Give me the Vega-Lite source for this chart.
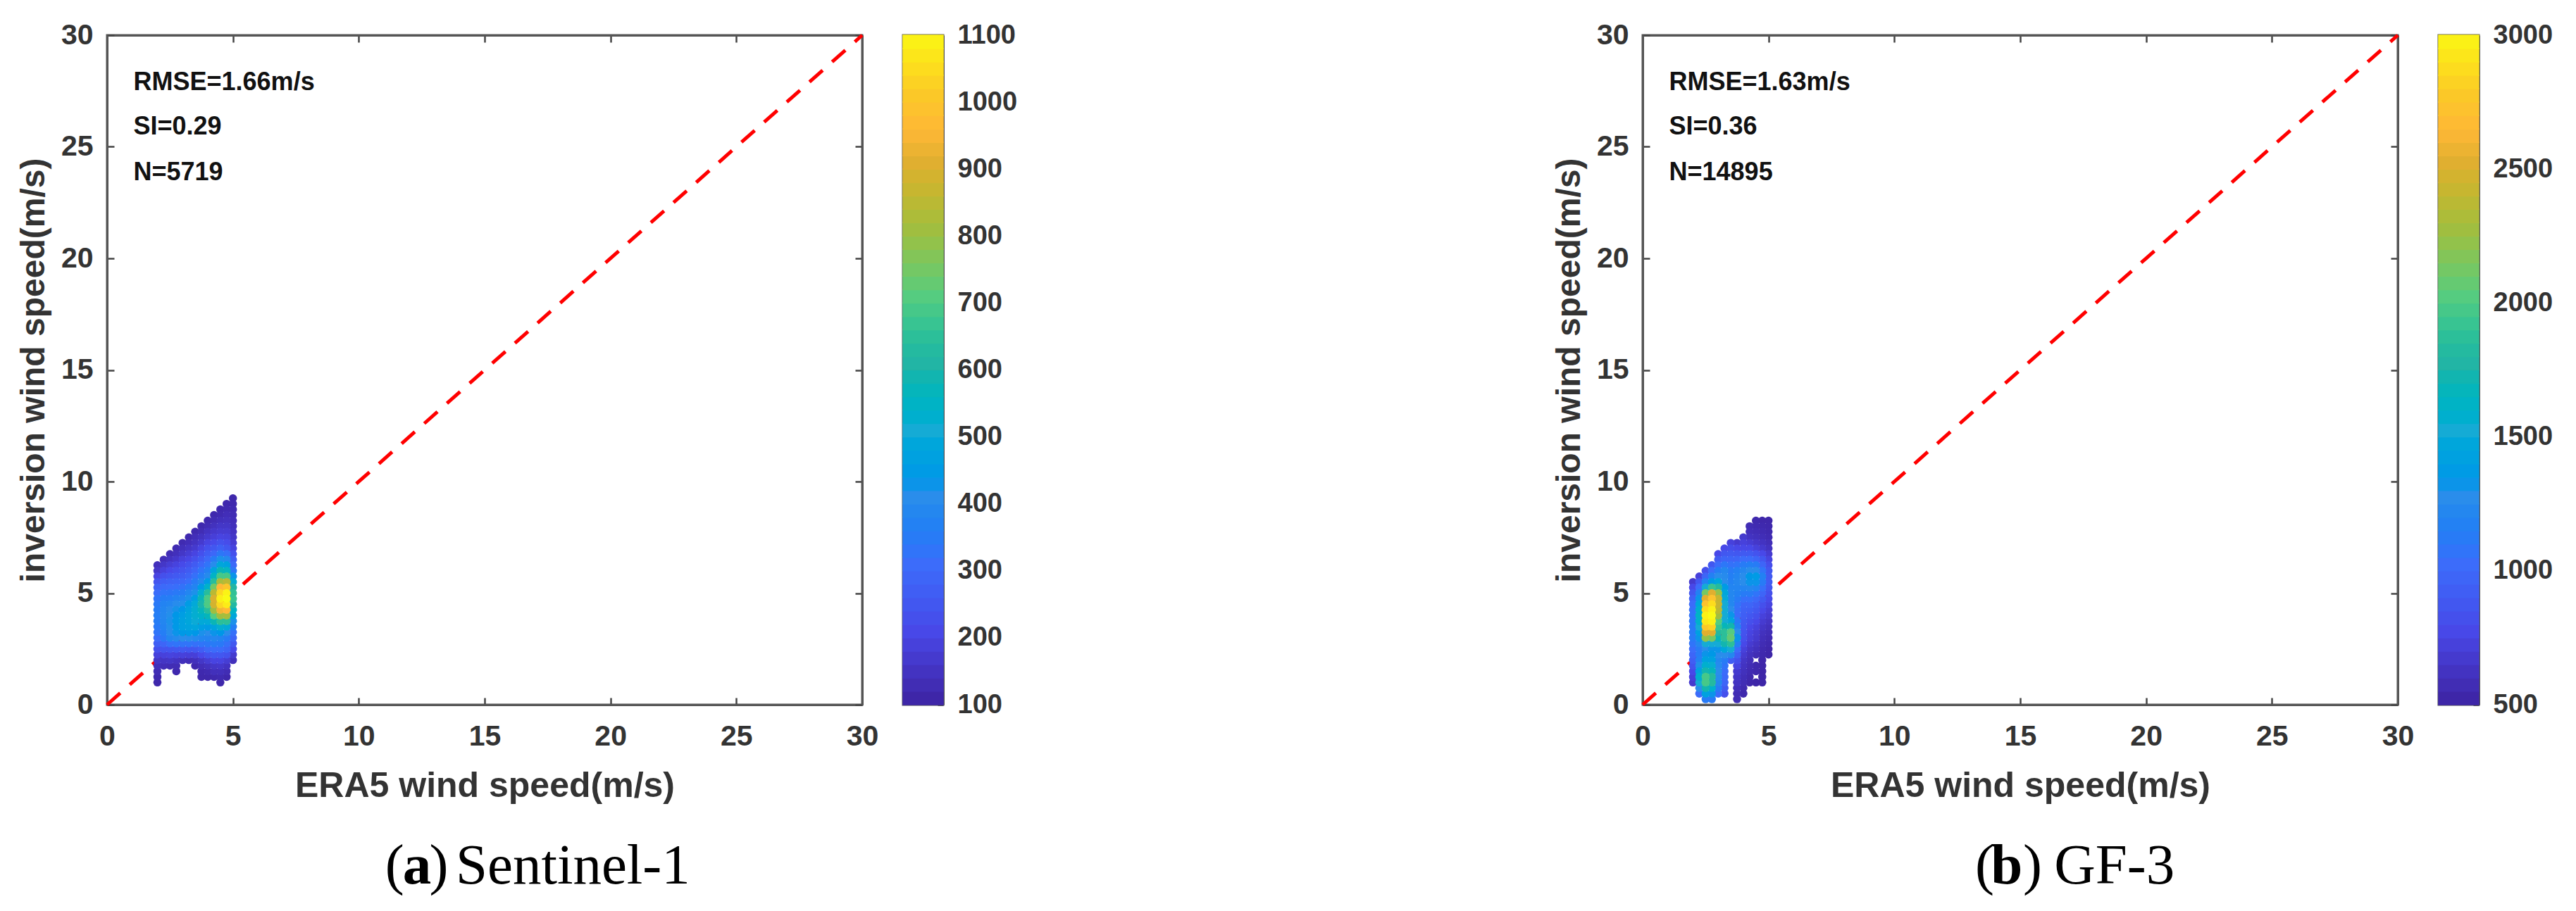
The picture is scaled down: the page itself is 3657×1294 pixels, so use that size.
{
"$schema":"https://vega.github.io/schema/vega-lite/v6.json",
"background":"white",
"padding":{"left":22,"top":27,"right":0,"bottom":0},
"config":{"view":{"stroke":"#555","strokeWidth":3},
"axis":{"grid":false,"labelFont":"Liberation Sans","labelFontWeight":"bold","labelFontSize":41,"labelColor":"#333","titleFont":"Liberation Sans","titleFontWeight":"bold","titleFontSize":48,"titleColor":"#333","tickColor":"#444","tickWidth":2.5,"tickSize":-10,"domainColor":"#555","domainWidth":3,"labelFlush":false,"labelOverlap":false,"zindex":1}},
"datasets":{
"line":[{"x":0,"y":0},{"x":30,"y":30}],
"statsA":[{"x":1.05,"y":27.55,"t":"RMSE=1.66m/s"},{"x":1.05,"y":25.55,"t":"SI=0.29"},{"x":1.05,"y":23.5,"t":"N=5719"}],
"statsB":[{"x":1.05,"y":27.55,"t":"RMSE=1.63m/s"},{"x":1.05,"y":25.55,"t":"SI=0.36"},{"x":1.05,"y":23.5,"t":"N=14895"}],
"capA":[{"x":11.05,"y":-8,"t":"("},{"x":12.8,"y":-8,"t":")"},{"x":13.85,"y":-8,"t":"Sentinel-1"}],
"capABold":[{"x":11.75,"y":-8,"t":"a"}],
"capB":[{"x":13.21,"y":-8,"t":"("},{"x":15.11,"y":-8,"t":")"},{"x":16.35,"y":-8,"t":"GF-3"}],
"capBBold":[{"x":13.83,"y":-8,"t":"b"}],
"barA":[{"lo":100,"hi":120},{"lo":120,"hi":140},{"lo":140,"hi":160},{"lo":160,"hi":180},{"lo":180,"hi":200},{"lo":200,"hi":220},{"lo":220,"hi":240},{"lo":240,"hi":260},{"lo":260,"hi":280},{"lo":280,"hi":300},{"lo":300,"hi":320},{"lo":320,"hi":340},{"lo":340,"hi":360},{"lo":360,"hi":380},{"lo":380,"hi":400},{"lo":400,"hi":420},{"lo":420,"hi":440},{"lo":440,"hi":460},{"lo":460,"hi":480},{"lo":480,"hi":500},{"lo":500,"hi":520},{"lo":520,"hi":540},{"lo":540,"hi":560},{"lo":560,"hi":580},{"lo":580,"hi":600},{"lo":600,"hi":620},{"lo":620,"hi":640},{"lo":640,"hi":660},{"lo":660,"hi":680},{"lo":680,"hi":700},{"lo":700,"hi":720},{"lo":720,"hi":740},{"lo":740,"hi":760},{"lo":760,"hi":780},{"lo":780,"hi":800},{"lo":800,"hi":820},{"lo":820,"hi":840},{"lo":840,"hi":860},{"lo":860,"hi":880},{"lo":880,"hi":900},{"lo":900,"hi":920},{"lo":920,"hi":940},{"lo":940,"hi":960},{"lo":960,"hi":980},{"lo":980,"hi":1000},{"lo":1000,"hi":1020},{"lo":1020,"hi":1040},{"lo":1040,"hi":1060},{"lo":1060,"hi":1080},{"lo":1080,"hi":1100}],
"barB":[{"lo":500,"hi":550},{"lo":550,"hi":600},{"lo":600,"hi":650},{"lo":650,"hi":700},{"lo":700,"hi":750},{"lo":750,"hi":800},{"lo":800,"hi":850},{"lo":850,"hi":900},{"lo":900,"hi":950},{"lo":950,"hi":1000},{"lo":1000,"hi":1050},{"lo":1050,"hi":1100},{"lo":1100,"hi":1150},{"lo":1150,"hi":1200},{"lo":1200,"hi":1250},{"lo":1250,"hi":1300},{"lo":1300,"hi":1350},{"lo":1350,"hi":1400},{"lo":1400,"hi":1450},{"lo":1450,"hi":1500},{"lo":1500,"hi":1550},{"lo":1550,"hi":1600},{"lo":1600,"hi":1650},{"lo":1650,"hi":1700},{"lo":1700,"hi":1750},{"lo":1750,"hi":1800},{"lo":1800,"hi":1850},{"lo":1850,"hi":1900},{"lo":1900,"hi":1950},{"lo":1950,"hi":2000},{"lo":2000,"hi":2050},{"lo":2050,"hi":2100},{"lo":2100,"hi":2150},{"lo":2150,"hi":2200},{"lo":2200,"hi":2250},{"lo":2250,"hi":2300},{"lo":2300,"hi":2350},{"lo":2350,"hi":2400},{"lo":2400,"hi":2450},{"lo":2450,"hi":2500},{"lo":2500,"hi":2550},{"lo":2550,"hi":2600},{"lo":2600,"hi":2650},{"lo":2650,"hi":2700},{"lo":2700,"hi":2750},{"lo":2750,"hi":2800},{"lo":2800,"hi":2850},{"lo":2850,"hi":2900},{"lo":2900,"hi":2950},{"lo":2950,"hi":3000}],
"s1":[
{"x":2,"y":6.25,"d":130},{"x":2,"y":6,"d":150},{"x":2,"y":5.75,"d":190},{"x":2,"y":5.5,"d":230},{"x":2,"y":5.25,"d":270},{"x":2,"y":5,"d":300},{"x":2,"y":4.75,"d":320},{"x":2,"y":4.5,"d":335},{"x":2,"y":4.25,"d":345},{"x":2,"y":4,"d":350},{"x":2,"y":3.75,"d":345},{"x":2,"y":3.5,"d":335},{"x":2,"y":3.25,"d":320},{"x":2,"y":3,"d":300},{"x":2,"y":2.75,"d":260},{"x":2,"y":2.5,"d":220},{"x":2,"y":2.25,"d":180},{"x":2,"y":2,"d":150},{"x":2,"y":1.75,"d":130},{"x":2,"y":1.5,"d":120},{"x":2,"y":1.25,"d":110},{"x":2,"y":1,"d":105},
{"x":2.25,"y":6.5,"d":125},{"x":2.25,"y":6.25,"d":150},{"x":2.25,"y":6,"d":180},{"x":2.25,"y":5.75,"d":220},{"x":2.25,"y":5.5,"d":260},{"x":2.25,"y":5.25,"d":295},{"x":2.25,"y":5,"d":320},{"x":2.25,"y":4.75,"d":345},{"x":2.25,"y":4.5,"d":365},{"x":2.25,"y":4.25,"d":375},{"x":2.25,"y":4,"d":380},{"x":2.25,"y":3.75,"d":375},{"x":2.25,"y":3.5,"d":365},{"x":2.25,"y":3.25,"d":350},{"x":2.25,"y":3,"d":330},{"x":2.25,"y":2.75,"d":280},{"x":2.25,"y":2.5,"d":230},{"x":2.25,"y":2.25,"d":180},{"x":2.25,"y":2,"d":145},{"x":2.25,"y":1.75,"d":125},
{"x":2.5,"y":6.75,"d":120},{"x":2.5,"y":6.5,"d":140},{"x":2.5,"y":6.25,"d":170},{"x":2.5,"y":6,"d":200},{"x":2.5,"y":5.75,"d":235},{"x":2.5,"y":5.5,"d":270},{"x":2.5,"y":5.25,"d":300},{"x":2.5,"y":5,"d":325},{"x":2.5,"y":4.75,"d":350},{"x":2.5,"y":4.5,"d":375},{"x":2.5,"y":4.25,"d":395},{"x":2.5,"y":4,"d":405},{"x":2.5,"y":3.75,"d":410},{"x":2.5,"y":3.5,"d":405},{"x":2.5,"y":3.25,"d":395},{"x":2.5,"y":3,"d":375},{"x":2.5,"y":2.75,"d":310},{"x":2.5,"y":2.5,"d":235},{"x":2.5,"y":2.25,"d":185},{"x":2.5,"y":2,"d":150},{"x":2.5,"y":1.75,"d":120},
{"x":2.75,"y":7,"d":115},{"x":2.75,"y":6.75,"d":130},{"x":2.75,"y":6.5,"d":155},{"x":2.75,"y":6.25,"d":185},{"x":2.75,"y":6,"d":215},{"x":2.75,"y":5.75,"d":245},{"x":2.75,"y":5.5,"d":275},{"x":2.75,"y":5.25,"d":305},{"x":2.75,"y":5,"d":335},{"x":2.75,"y":4.75,"d":365},{"x":2.75,"y":4.5,"d":395},{"x":2.75,"y":4.25,"d":415},{"x":2.75,"y":4,"d":430},{"x":2.75,"y":3.75,"d":435},{"x":2.75,"y":3.5,"d":435},{"x":2.75,"y":3.25,"d":420},{"x":2.75,"y":3,"d":390},{"x":2.75,"y":2.75,"d":320},{"x":2.75,"y":2.5,"d":240},{"x":2.75,"y":2.25,"d":180},{"x":2.75,"y":2,"d":140},{"x":2.75,"y":1.75,"d":120},{"x":2.75,"y":1.5,"d":110},
{"x":3,"y":7.25,"d":115},{"x":3,"y":7,"d":130},{"x":3,"y":6.75,"d":150},{"x":3,"y":6.5,"d":180},{"x":3,"y":6.25,"d":205},{"x":3,"y":6,"d":230},{"x":3,"y":5.75,"d":255},{"x":3,"y":5.5,"d":285},{"x":3,"y":5.25,"d":315},{"x":3,"y":5,"d":345},{"x":3,"y":4.75,"d":375},{"x":3,"y":4.5,"d":405},{"x":3,"y":4.25,"d":430},{"x":3,"y":4,"d":450},{"x":3,"y":3.75,"d":460},{"x":3,"y":3.5,"d":460},{"x":3,"y":3.25,"d":435},{"x":3,"y":3,"d":400},{"x":3,"y":2.75,"d":320},{"x":3,"y":2.5,"d":245},{"x":3,"y":2.25,"d":180},{"x":3,"y":2,"d":130},
{"x":3.25,"y":7.5,"d":110},{"x":3.25,"y":7.25,"d":125},{"x":3.25,"y":7,"d":145},{"x":3.25,"y":6.75,"d":170},{"x":3.25,"y":6.5,"d":195},{"x":3.25,"y":6.25,"d":225},{"x":3.25,"y":6,"d":250},{"x":3.25,"y":5.75,"d":275},{"x":3.25,"y":5.5,"d":305},{"x":3.25,"y":5.25,"d":340},{"x":3.25,"y":5,"d":375},{"x":3.25,"y":4.75,"d":410},{"x":3.25,"y":4.5,"d":445},{"x":3.25,"y":4.25,"d":470},{"x":3.25,"y":4,"d":480},{"x":3.25,"y":3.75,"d":480},{"x":3.25,"y":3.5,"d":470},{"x":3.25,"y":3.25,"d":440},{"x":3.25,"y":3,"d":395},{"x":3.25,"y":2.75,"d":320},{"x":3.25,"y":2.5,"d":240},{"x":3.25,"y":2.25,"d":175},{"x":3.25,"y":2,"d":125},
{"x":3.5,"y":7.75,"d":110},{"x":3.5,"y":7.5,"d":125},{"x":3.5,"y":7.25,"d":140},{"x":3.5,"y":7,"d":160},{"x":3.5,"y":6.75,"d":190},{"x":3.5,"y":6.5,"d":220},{"x":3.5,"y":6.25,"d":250},{"x":3.5,"y":6,"d":280},{"x":3.5,"y":5.75,"d":310},{"x":3.5,"y":5.5,"d":340},{"x":3.5,"y":5.25,"d":370},{"x":3.5,"y":5,"d":410},{"x":3.5,"y":4.75,"d":450},{"x":3.5,"y":4.5,"d":490},{"x":3.5,"y":4.25,"d":510},{"x":3.5,"y":4,"d":510},{"x":3.5,"y":3.75,"d":495},{"x":3.5,"y":3.5,"d":475},{"x":3.5,"y":3.25,"d":430},{"x":3.5,"y":3,"d":385},{"x":3.5,"y":2.75,"d":310},{"x":3.5,"y":2.5,"d":240},{"x":3.5,"y":2.25,"d":175},{"x":3.5,"y":2,"d":130},{"x":3.5,"y":1.75,"d":110},
{"x":3.75,"y":8,"d":110},{"x":3.75,"y":7.75,"d":120},{"x":3.75,"y":7.5,"d":140},{"x":3.75,"y":7.25,"d":160},{"x":3.75,"y":7,"d":190},{"x":3.75,"y":6.75,"d":220},{"x":3.75,"y":6.5,"d":250},{"x":3.75,"y":6.25,"d":285},{"x":3.75,"y":6,"d":320},{"x":3.75,"y":5.75,"d":350},{"x":3.75,"y":5.5,"d":385},{"x":3.75,"y":5.25,"d":440},{"x":3.75,"y":5,"d":510},{"x":3.75,"y":4.75,"d":570},{"x":3.75,"y":4.5,"d":590},{"x":3.75,"y":4.25,"d":560},{"x":3.75,"y":4,"d":530},{"x":3.75,"y":3.75,"d":490},{"x":3.75,"y":3.5,"d":450},{"x":3.75,"y":3.25,"d":410},{"x":3.75,"y":3,"d":375},{"x":3.75,"y":2.75,"d":320},{"x":3.75,"y":2.5,"d":260},{"x":3.75,"y":2.25,"d":200},{"x":3.75,"y":2,"d":150},{"x":3.75,"y":1.75,"d":125},{"x":3.75,"y":1.5,"d":110},{"x":3.75,"y":1.25,"d":105},
{"x":4,"y":8.25,"d":110},{"x":4,"y":8,"d":120},{"x":4,"y":7.75,"d":140},{"x":4,"y":7.5,"d":160},{"x":4,"y":7.25,"d":190},{"x":4,"y":7,"d":220},{"x":4,"y":6.75,"d":255},{"x":4,"y":6.5,"d":290},{"x":4,"y":6.25,"d":320},{"x":4,"y":6,"d":355},{"x":4,"y":5.75,"d":390},{"x":4,"y":5.5,"d":440},{"x":4,"y":5.25,"d":530},{"x":4,"y":5,"d":630},{"x":4,"y":4.75,"d":690},{"x":4,"y":4.5,"d":690},{"x":4,"y":4.25,"d":630},{"x":4,"y":4,"d":560},{"x":4,"y":3.75,"d":490},{"x":4,"y":3.5,"d":440},{"x":4,"y":3.25,"d":400},{"x":4,"y":3,"d":370},{"x":4,"y":2.75,"d":330},{"x":4,"y":2.5,"d":290},{"x":4,"y":2.25,"d":225},{"x":4,"y":2,"d":170},{"x":4,"y":1.75,"d":135},{"x":4,"y":1.5,"d":115},{"x":4,"y":1.25,"d":105},
{"x":4.25,"y":8.5,"d":110},{"x":4.25,"y":8.25,"d":120},{"x":4.25,"y":8,"d":135},{"x":4.25,"y":7.75,"d":155},{"x":4.25,"y":7.5,"d":175},{"x":4.25,"y":7.25,"d":205},{"x":4.25,"y":7,"d":240},{"x":4.25,"y":6.75,"d":285},{"x":4.25,"y":6.5,"d":340},{"x":4.25,"y":6.25,"d":395},{"x":4.25,"y":6,"d":470},{"x":4.25,"y":5.75,"d":540},{"x":4.25,"y":5.5,"d":630},{"x":4.25,"y":5.25,"d":740},{"x":4.25,"y":5,"d":840},{"x":4.25,"y":4.75,"d":890},{"x":4.25,"y":4.5,"d":880},{"x":4.25,"y":4.25,"d":800},{"x":4.25,"y":4,"d":700},{"x":4.25,"y":3.75,"d":570},{"x":4.25,"y":3.5,"d":470},{"x":4.25,"y":3.25,"d":420},{"x":4.25,"y":3,"d":380},{"x":4.25,"y":2.75,"d":340},{"x":4.25,"y":2.5,"d":300},{"x":4.25,"y":2.25,"d":240},{"x":4.25,"y":2,"d":190},{"x":4.25,"y":1.75,"d":150},{"x":4.25,"y":1.5,"d":130},{"x":4.25,"y":1.25,"d":110},
{"x":4.5,"y":8.75,"d":110},{"x":4.5,"y":8.5,"d":115},{"x":4.5,"y":8.25,"d":130},{"x":4.5,"y":8,"d":150},{"x":4.5,"y":7.75,"d":165},{"x":4.5,"y":7.5,"d":190},{"x":4.5,"y":7.25,"d":225},{"x":4.5,"y":7,"d":265},{"x":4.5,"y":6.75,"d":330},{"x":4.5,"y":6.5,"d":410},{"x":4.5,"y":6.25,"d":480},{"x":4.5,"y":6,"d":570},{"x":4.5,"y":5.75,"d":680},{"x":4.5,"y":5.5,"d":810},{"x":4.5,"y":5.25,"d":950},{"x":4.5,"y":5,"d":1030},{"x":4.5,"y":4.75,"d":1075},{"x":4.5,"y":4.5,"d":1030},{"x":4.5,"y":4.25,"d":930},{"x":4.5,"y":4,"d":800},{"x":4.5,"y":3.75,"d":640},{"x":4.5,"y":3.5,"d":510},{"x":4.5,"y":3.25,"d":430},{"x":4.5,"y":3,"d":370},{"x":4.5,"y":2.75,"d":335},{"x":4.5,"y":2.5,"d":300},{"x":4.5,"y":2.25,"d":240},{"x":4.5,"y":2,"d":190},{"x":4.5,"y":1.75,"d":155},{"x":4.5,"y":1.5,"d":130},{"x":4.5,"y":1.25,"d":115},{"x":4.5,"y":1,"d":105},
{"x":4.75,"y":9,"d":110},{"x":4.75,"y":8.75,"d":115},{"x":4.75,"y":8.5,"d":125},{"x":4.75,"y":8.25,"d":135},{"x":4.75,"y":8,"d":150},{"x":4.75,"y":7.75,"d":165},{"x":4.75,"y":7.5,"d":185},{"x":4.75,"y":7.25,"d":210},{"x":4.75,"y":7,"d":240},{"x":4.75,"y":6.75,"d":310},{"x":4.75,"y":6.5,"d":385},{"x":4.75,"y":6.25,"d":460},{"x":4.75,"y":6,"d":550},{"x":4.75,"y":5.75,"d":680},{"x":4.75,"y":5.5,"d":840},{"x":4.75,"y":5.25,"d":990},{"x":4.75,"y":5,"d":1085},{"x":4.75,"y":4.75,"d":1100},{"x":4.75,"y":4.5,"d":1070},{"x":4.75,"y":4.25,"d":950},{"x":4.75,"y":4,"d":810},{"x":4.75,"y":3.75,"d":640},{"x":4.75,"y":3.5,"d":490},{"x":4.75,"y":3.25,"d":400},{"x":4.75,"y":3,"d":340},{"x":4.75,"y":2.75,"d":310},{"x":4.75,"y":2.5,"d":280},{"x":4.75,"y":2.25,"d":225},{"x":4.75,"y":2,"d":170},{"x":4.75,"y":1.75,"d":140},{"x":4.75,"y":1.5,"d":120},{"x":4.75,"y":1.25,"d":105},
{"x":5,"y":9.25,"d":105},{"x":5,"y":9,"d":110},{"x":5,"y":8.75,"d":115},{"x":5,"y":8.5,"d":120},{"x":5,"y":8.25,"d":125},{"x":5,"y":8,"d":130},{"x":5,"y":7.75,"d":140},{"x":5,"y":7.5,"d":150},{"x":5,"y":7.25,"d":165},{"x":5,"y":7,"d":185},{"x":5,"y":6.75,"d":220},{"x":5,"y":6.5,"d":255},{"x":5,"y":6.25,"d":290},{"x":5,"y":6,"d":330},{"x":5,"y":5.75,"d":420},{"x":5,"y":5.5,"d":510},{"x":5,"y":5.25,"d":600},{"x":5,"y":5,"d":650},{"x":5,"y":4.75,"d":660},{"x":5,"y":4.5,"d":610},{"x":5,"y":4.25,"d":540},{"x":5,"y":4,"d":480},{"x":5,"y":3.75,"d":410},{"x":5,"y":3.5,"d":350},{"x":5,"y":3.25,"d":310},{"x":5,"y":3,"d":280},{"x":5,"y":2.75,"d":240},{"x":5,"y":2.5,"d":200},{"x":5,"y":2.25,"d":160},{"x":5,"y":2,"d":130}],
"gf3":[
{"x":2,"y":5.5,"d":650},{"x":2,"y":5.25,"d":750},{"x":2,"y":5,"d":850},{"x":2,"y":4.75,"d":930},{"x":2,"y":4.5,"d":1000},{"x":2,"y":4.25,"d":1030},{"x":2,"y":4,"d":1050},{"x":2,"y":3.75,"d":1070},{"x":2,"y":3.5,"d":1090},{"x":2,"y":3.25,"d":1100},{"x":2,"y":3,"d":1100},{"x":2,"y":2.75,"d":1050},{"x":2,"y":2.5,"d":1000},{"x":2,"y":2.25,"d":950},{"x":2,"y":2,"d":900},{"x":2,"y":1.75,"d":830},{"x":2,"y":1.5,"d":750},{"x":2,"y":1.25,"d":700},{"x":2,"y":1,"d":650},
{"x":2.25,"y":5.75,"d":700},{"x":2.25,"y":5.5,"d":850},{"x":2.25,"y":5.25,"d":1000},{"x":2.25,"y":5,"d":1150},{"x":2.25,"y":4.75,"d":1300},{"x":2.25,"y":4.5,"d":1450},{"x":2.25,"y":4.25,"d":1550},{"x":2.25,"y":4,"d":1600},{"x":2.25,"y":3.75,"d":1570},{"x":2.25,"y":3.5,"d":1500},{"x":2.25,"y":3.25,"d":1400},{"x":2.25,"y":3,"d":1300},{"x":2.25,"y":2.75,"d":1200},{"x":2.25,"y":2.5,"d":1100},{"x":2.25,"y":2.25,"d":1100},{"x":2.25,"y":2,"d":1150},{"x":2.25,"y":1.75,"d":1270},{"x":2.25,"y":1.5,"d":1400},{"x":2.25,"y":1.25,"d":1550},{"x":2.25,"y":1,"d":1500},{"x":2.25,"y":0.75,"d":1250},{"x":2.25,"y":0.5,"d":1000},
{"x":2.5,"y":6,"d":800},{"x":2.5,"y":5.75,"d":950},{"x":2.5,"y":5.5,"d":1150},{"x":2.5,"y":5.25,"d":1500},{"x":2.5,"y":5,"d":2100},{"x":2.5,"y":4.75,"d":2500},{"x":2.5,"y":4.5,"d":2700},{"x":2.5,"y":4.25,"d":2850},{"x":2.5,"y":4,"d":2950},{"x":2.5,"y":3.75,"d":2900},{"x":2.5,"y":3.5,"d":2750},{"x":2.5,"y":3.25,"d":2500},{"x":2.5,"y":3,"d":2200},{"x":2.5,"y":2.75,"d":1500},{"x":2.5,"y":2.5,"d":1250},{"x":2.5,"y":2.25,"d":1300},{"x":2.5,"y":2,"d":1400},{"x":2.5,"y":1.75,"d":1550},{"x":2.5,"y":1.5,"d":1700},{"x":2.5,"y":1.25,"d":1950},{"x":2.5,"y":1,"d":1950},{"x":2.5,"y":0.75,"d":1700},{"x":2.5,"y":0.5,"d":1400},{"x":2.5,"y":0.25,"d":1100},
{"x":2.75,"y":6.25,"d":850},{"x":2.75,"y":6,"d":1000},{"x":2.75,"y":5.75,"d":1150},{"x":2.75,"y":5.5,"d":1350},{"x":2.75,"y":5.25,"d":1900},{"x":2.75,"y":5,"d":2500},{"x":2.75,"y":4.75,"d":2700},{"x":2.75,"y":4.5,"d":2850},{"x":2.75,"y":4.25,"d":2950},{"x":2.75,"y":4,"d":3000},{"x":2.75,"y":3.75,"d":2950},{"x":2.75,"y":3.5,"d":2800},{"x":2.75,"y":3.25,"d":2500},{"x":2.75,"y":3,"d":2100},{"x":2.75,"y":2.75,"d":1500},{"x":2.75,"y":2.5,"d":1300},{"x":2.75,"y":2.25,"d":1330},{"x":2.75,"y":2,"d":1400},{"x":2.75,"y":1.75,"d":1520},{"x":2.75,"y":1.5,"d":1650},{"x":2.75,"y":1.25,"d":1800},{"x":2.75,"y":1,"d":1800},{"x":2.75,"y":0.75,"d":1550},{"x":2.75,"y":0.5,"d":1300},{"x":2.75,"y":0.25,"d":1100},
{"x":3,"y":6.75,"d":750},{"x":3,"y":6.5,"d":880},{"x":3,"y":6.25,"d":1000},{"x":3,"y":6,"d":1120},{"x":3,"y":5.75,"d":1250},{"x":3,"y":5.5,"d":1450},{"x":3,"y":5.25,"d":1800},{"x":3,"y":5,"d":2200},{"x":3,"y":4.75,"d":2400},{"x":3,"y":4.5,"d":2400},{"x":3,"y":4.25,"d":2350},{"x":3,"y":4,"d":2250},{"x":3,"y":3.75,"d":2000},{"x":3,"y":3.5,"d":1900},{"x":3,"y":3.25,"d":1780},{"x":3,"y":3,"d":1650},{"x":3,"y":2.75,"d":1500},{"x":3,"y":2.5,"d":1300},{"x":3,"y":2.25,"d":1250},{"x":3,"y":2,"d":1200},{"x":3,"y":1.75,"d":1220},{"x":3,"y":1.5,"d":1250},{"x":3,"y":1.25,"d":1230},{"x":3,"y":1,"d":1200},{"x":3,"y":0.75,"d":1100},{"x":3,"y":0.5,"d":1000},
{"x":3.25,"y":7,"d":750},{"x":3.25,"y":6.75,"d":850},{"x":3.25,"y":6.5,"d":950},{"x":3.25,"y":6.25,"d":1070},{"x":3.25,"y":6,"d":1200},{"x":3.25,"y":5.75,"d":1230},{"x":3.25,"y":5.5,"d":1250},{"x":3.25,"y":5.25,"d":1350},{"x":3.25,"y":5,"d":1450},{"x":3.25,"y":4.75,"d":1480},{"x":3.25,"y":4.5,"d":1500},{"x":3.25,"y":4.25,"d":1500},{"x":3.25,"y":4,"d":1500},{"x":3.25,"y":3.75,"d":1500},{"x":3.25,"y":3.5,"d":1650},{"x":3.25,"y":3.25,"d":1850},{"x":3.25,"y":3,"d":1850},{"x":3.25,"y":2.75,"d":1700},{"x":3.25,"y":2.5,"d":1450},{"x":3.25,"y":2.25,"d":1250},{"x":3.25,"y":2,"d":1100},{"x":3.25,"y":1.75,"d":1050},{"x":3.25,"y":1.5,"d":1000},{"x":3.25,"y":1.25,"d":980},{"x":3.25,"y":1,"d":950},{"x":3.25,"y":0.75,"d":870},{"x":3.25,"y":0.5,"d":800},
{"x":3.5,"y":7.25,"d":700},{"x":3.5,"y":7,"d":780},{"x":3.5,"y":6.75,"d":870},{"x":3.5,"y":6.5,"d":950},{"x":3.5,"y":6.25,"d":1030},{"x":3.5,"y":6,"d":1100},{"x":3.5,"y":5.75,"d":1130},{"x":3.5,"y":5.5,"d":1150},{"x":3.5,"y":5.25,"d":1180},{"x":3.5,"y":5,"d":1200},{"x":3.5,"y":4.75,"d":1200},{"x":3.5,"y":4.5,"d":1200},{"x":3.5,"y":4.25,"d":1250},{"x":3.5,"y":4,"d":1300},{"x":3.5,"y":3.75,"d":1450},{"x":3.5,"y":3.5,"d":1700},{"x":3.5,"y":3.25,"d":2000},{"x":3.5,"y":3,"d":2050},{"x":3.5,"y":2.75,"d":1850},{"x":3.5,"y":2.5,"d":1500},{"x":3.5,"y":2.25,"d":1200},{"x":3.5,"y":2,"d":900},
{"x":3.75,"y":7.25,"d":650},{"x":3.75,"y":7,"d":750},{"x":3.75,"y":6.75,"d":850},{"x":3.75,"y":6.5,"d":950},{"x":3.75,"y":6.25,"d":1050},{"x":3.75,"y":6,"d":1150},{"x":3.75,"y":5.75,"d":1180},{"x":3.75,"y":5.5,"d":1200},{"x":3.75,"y":5.25,"d":1180},{"x":3.75,"y":5,"d":1150},{"x":3.75,"y":4.75,"d":1100},{"x":3.75,"y":4.5,"d":1050},{"x":3.75,"y":4.25,"d":1020},{"x":3.75,"y":4,"d":1000},{"x":3.75,"y":3.75,"d":1070},{"x":3.75,"y":3.5,"d":1150},{"x":3.75,"y":3.25,"d":1250},{"x":3.75,"y":3,"d":1300},{"x":3.75,"y":2.75,"d":1150},{"x":3.75,"y":2.5,"d":1000},{"x":3.75,"y":2.25,"d":900},{"x":3.75,"y":2,"d":800},{"x":3.75,"y":1.75,"d":720},{"x":3.75,"y":1.5,"d":650},{"x":3.75,"y":1.25,"d":620},{"x":3.75,"y":1,"d":600},{"x":3.75,"y":0.75,"d":570},{"x":3.75,"y":0.5,"d":550},{"x":3.75,"y":0.25,"d":550},
{"x":4,"y":7.5,"d":650},{"x":4,"y":7.25,"d":700},{"x":4,"y":7,"d":750},{"x":4,"y":6.75,"d":870},{"x":4,"y":6.5,"d":1000},{"x":4,"y":6.25,"d":1100},{"x":4,"y":6,"d":1200},{"x":4,"y":5.75,"d":1250},{"x":4,"y":5.5,"d":1250},{"x":4,"y":5.25,"d":1180},{"x":4,"y":5,"d":1100},{"x":4,"y":4.75,"d":1020},{"x":4,"y":4.5,"d":950},{"x":4,"y":4.25,"d":920},{"x":4,"y":4,"d":900},{"x":4,"y":3.75,"d":870},{"x":4,"y":3.5,"d":850},{"x":4,"y":3.25,"d":820},{"x":4,"y":3,"d":800},{"x":4,"y":2.75,"d":750},{"x":4,"y":2.5,"d":700},{"x":4,"y":2.25,"d":660},{"x":4,"y":2,"d":620},{"x":4,"y":1.75,"d":600},{"x":4,"y":1.5,"d":580},{"x":4,"y":1.25,"d":560},{"x":4,"y":1,"d":550},{"x":4,"y":0.75,"d":530},{"x":4,"y":0.5,"d":520},
{"x":4.25,"y":8,"d":550},{"x":4.25,"y":7.75,"d":570},{"x":4.25,"y":7.5,"d":600},{"x":4.25,"y":7.25,"d":670},{"x":4.25,"y":7,"d":750},{"x":4.25,"y":6.75,"d":870},{"x":4.25,"y":6.5,"d":1000},{"x":4.25,"y":6.25,"d":1130},{"x":4.25,"y":6,"d":1250},{"x":4.25,"y":5.75,"d":1320},{"x":4.25,"y":5.5,"d":1300},{"x":4.25,"y":5.25,"d":1200},{"x":4.25,"y":5,"d":1100},{"x":4.25,"y":4.75,"d":1020},{"x":4.25,"y":4.5,"d":950},{"x":4.25,"y":4.25,"d":900},{"x":4.25,"y":4,"d":850},{"x":4.25,"y":3.75,"d":800},{"x":4.25,"y":3.5,"d":750},{"x":4.25,"y":3.25,"d":720},{"x":4.25,"y":3,"d":700},{"x":4.25,"y":2.75,"d":660},{"x":4.25,"y":2.5,"d":620},{"x":4.25,"y":2.25,"d":590},{"x":4.25,"y":2,"d":570},{"x":4.25,"y":1.75,"d":550},{"x":4.25,"y":1.5,"d":540},{"x":4.25,"y":1.25,"d":520},{"x":4.25,"y":1,"d":510},
{"x":4.5,"y":8.25,"d":520},{"x":4.5,"y":8,"d":535},{"x":4.5,"y":7.75,"d":555},{"x":4.5,"y":7.5,"d":580},{"x":4.5,"y":7.25,"d":630},{"x":4.5,"y":7,"d":700},{"x":4.5,"y":6.75,"d":820},{"x":4.5,"y":6.5,"d":950},{"x":4.5,"y":6.25,"d":1100},{"x":4.5,"y":6,"d":1250},{"x":4.5,"y":5.75,"d":1350},{"x":4.5,"y":5.5,"d":1300},{"x":4.5,"y":5.25,"d":1170},{"x":4.5,"y":5,"d":1050},{"x":4.5,"y":4.75,"d":970},{"x":4.5,"y":4.5,"d":900},{"x":4.5,"y":4.25,"d":850},{"x":4.5,"y":4,"d":800},{"x":4.5,"y":3.75,"d":750},{"x":4.5,"y":3.5,"d":700},{"x":4.5,"y":3.25,"d":670},{"x":4.5,"y":3,"d":650},{"x":4.5,"y":2.75,"d":610},{"x":4.5,"y":2.5,"d":580},{"x":4.5,"y":2.25,"d":550},{"x":4.5,"y":1.75,"d":520},{"x":4.5,"y":1.5,"d":520},{"x":4.5,"y":1,"d":500},
{"x":4.75,"y":8.25,"d":510},{"x":4.75,"y":8,"d":525},{"x":4.75,"y":7.75,"d":540},{"x":4.75,"y":7.5,"d":560},{"x":4.75,"y":7.25,"d":600},{"x":4.75,"y":7,"d":650},{"x":4.75,"y":6.75,"d":750},{"x":4.75,"y":6.5,"d":850},{"x":4.75,"y":6.25,"d":950},{"x":4.75,"y":6,"d":1050},{"x":4.75,"y":5.75,"d":1150},{"x":4.75,"y":5.5,"d":1100},{"x":4.75,"y":5.25,"d":1020},{"x":4.75,"y":5,"d":950},{"x":4.75,"y":4.75,"d":870},{"x":4.75,"y":4.5,"d":800},{"x":4.75,"y":4.25,"d":750},{"x":4.75,"y":4,"d":700},{"x":4.75,"y":3.75,"d":660},{"x":4.75,"y":3.5,"d":620},{"x":4.75,"y":3.25,"d":590},{"x":4.75,"y":3,"d":570},{"x":4.75,"y":2.75,"d":550},{"x":4.75,"y":2.5,"d":530},{"x":4.75,"y":2.25,"d":520},{"x":4.75,"y":2,"d":510},{"x":4.75,"y":1.75,"d":505},{"x":4.75,"y":1.5,"d":500},{"x":4.75,"y":1.25,"d":500},{"x":4.75,"y":1,"d":500},
{"x":5,"y":8.25,"d":510},{"x":5,"y":8,"d":515},{"x":5,"y":7.75,"d":525},{"x":5,"y":7.5,"d":540},{"x":5,"y":7.25,"d":565},{"x":5,"y":7,"d":600},{"x":5,"y":6.75,"d":660},{"x":5,"y":6.5,"d":720},{"x":5,"y":6.25,"d":790},{"x":5,"y":6,"d":850},{"x":5,"y":5.75,"d":870},{"x":5,"y":5.5,"d":880},{"x":5,"y":5.25,"d":840},{"x":5,"y":5,"d":800},{"x":5,"y":4.75,"d":760},{"x":5,"y":4.5,"d":720},{"x":5,"y":4.25,"d":680},{"x":5,"y":4,"d":650},{"x":5,"y":3.75,"d":610},{"x":5,"y":3.5,"d":580},{"x":5,"y":3.25,"d":560},{"x":5,"y":3,"d":540},{"x":5,"y":2.75,"d":525},{"x":5,"y":2.5,"d":510},{"x":5,"y":2.25,"d":500}]
},
"spacing":2180,
"bounds":"flush",
"resolve":{"scale":{"color":"independent","stroke":"independent"}},
"hconcat":[
{"spacing":58,"bounds":"flush","hconcat":[
{"width":1072,"height":951,
"resolve":{"axis":{"x":"independent","y":"independent"}},
"layer":[
{"data":{"name":"line"},"mark":{"type":"line","color":"#FF0000","strokeWidth":5,"strokeDash":[25,18]},
"encoding":{"x":{"field":"x","type":"quantitative","scale":{"domain":[0,30]},"title":"ERA5 wind speed(m/s)","axis":{"values":[0,5,10,15,20,25,30],"labelPadding":35,"titlePadding":25,"titleFontSize":50}},
"y":{"field":"y","type":"quantitative","scale":{"domain":[0,30]},"title":"inversion wind speed(m/s)","axis":{"values":[0,5,10,15,20,25,30],"labelPadding":30,"titlePadding":14}}}},
{"data":{"name":"s1"},"mark":{"type":"circle","size":133,"opacity":1},
"encoding":{"x":{"field":"x","type":"quantitative","axis":{"orient":"top","labels":false,"title":null,"values":[0,5,10,15,20,25,30]}},
"y":{"field":"y","type":"quantitative","axis":{"orient":"right","labels":false,"title":null,"values":[0,5,10,15,20,25,30]}},
"order":{"field":"d","type":"quantitative"},
"color":{"field":"d","type":"quantitative","legend":null,"scale":{"domain":[100,200,300,400,500,550,600,700,800,900,950,1000,1100],"range":["#3E26A8","#4848E8","#3C6CFA","#2A8DEB","#15ABD5","#05B5C0","#22B5A5","#55CC80","#A0BE40","#E0AF30","#FFB836","#FBC828","#F9FB15"]}}}},
{"data":{"name":"statsA"},"mark":{"type":"text","align":"left","baseline":"alphabetic","font":"Liberation Sans","fontWeight":"bold","fontSize":36,"color":"#111"},
"encoding":{"x":{"field":"x","type":"quantitative","axis":null},"y":{"field":"y","type":"quantitative","axis":null},"text":{"field":"t"}}},
{"data":{"name":"capA"},"mark":{"type":"text","align":"left","baseline":"alphabetic","font":"Liberation Serif","fontSize":81,"color":"#000"},
"encoding":{"x":{"field":"x","type":"quantitative","axis":null},"y":{"field":"y","type":"quantitative","axis":null},"text":{"field":"t"}}},
{"data":{"name":"capABold"},"mark":{"type":"text","align":"left","baseline":"alphabetic","font":"Liberation Serif","fontWeight":"bold","fontSize":81,"color":"#000"},
"encoding":{"x":{"field":"x","type":"quantitative","axis":null},"y":{"field":"y","type":"quantitative","axis":null},"text":{"field":"t"}}}
]},
{"width":57,"height":951,"data":{"name":"barA"},"mark":{"type":"rect","strokeWidth":1.5},
"encoding":{"y":{"field":"lo","type":"quantitative","scale":{"domain":[100,1100]},"title":null,"axis":{"orient":"right","values":[100,200,300,400,500,600,700,800,900,1000,1100],"format":"d","labelFontSize":38,"labelPadding":28,"tickSize":-8}},"y2":{"field":"hi"},
"color":{"field":"lo","type":"quantitative","legend":null,"scale":{"domain":[100,200,300,400,500,550,600,700,800,900,950,1000,1100],"range":["#3E26A8","#4848E8","#3C6CFA","#2A8DEB","#15ABD5","#05B5C0","#22B5A5","#55CC80","#A0BE40","#E0AF30","#FFB836","#FBC828","#F9FB15"]}},
"stroke":{"field":"lo","type":"quantitative","legend":null,"scale":{"domain":[100,200,300,400,500,550,600,700,800,900,950,1000,1100],"range":["#3E26A8","#4848E8","#3C6CFA","#2A8DEB","#15ABD5","#05B5C0","#22B5A5","#55CC80","#A0BE40","#E0AF30","#FFB836","#FBC828","#F9FB15"]}}}}
]},
{"spacing":58,"bounds":"flush","hconcat":[
{"width":1072,"height":951,
"resolve":{"axis":{"x":"independent","y":"independent"}},
"layer":[
{"data":{"name":"line"},"mark":{"type":"line","color":"#FF0000","strokeWidth":5,"strokeDash":[25,18]},
"encoding":{"x":{"field":"x","type":"quantitative","scale":{"domain":[0,30]},"title":"ERA5 wind speed(m/s)","axis":{"values":[0,5,10,15,20,25,30],"labelPadding":35,"titlePadding":25,"titleFontSize":50}},
"y":{"field":"y","type":"quantitative","scale":{"domain":[0,30]},"title":"inversion wind speed(m/s)","axis":{"values":[0,5,10,15,20,25,30],"labelPadding":30,"titlePadding":14}}}},
{"data":{"name":"gf3"},"mark":{"type":"circle","size":133,"opacity":1},
"encoding":{"x":{"field":"x","type":"quantitative","axis":{"orient":"top","labels":false,"title":null,"values":[0,5,10,15,20,25,30]}},
"y":{"field":"y","type":"quantitative","axis":{"orient":"right","labels":false,"title":null,"values":[0,5,10,15,20,25,30]}},
"order":{"field":"d","type":"quantitative"},
"color":{"field":"d","type":"quantitative","legend":null,"scale":{"domain":[500,750,1000,1250,1500,1625,1750,2000,2250,2500,2625,2750,3000],"range":["#3E26A8","#4848E8","#3C6CFA","#2A8DEB","#15ABD5","#05B5C0","#22B5A5","#55CC80","#A0BE40","#E0AF30","#FFB836","#FBC828","#F9FB15"]}}}},
{"data":{"name":"statsB"},"mark":{"type":"text","align":"left","baseline":"alphabetic","font":"Liberation Sans","fontWeight":"bold","fontSize":36,"color":"#111"},
"encoding":{"x":{"field":"x","type":"quantitative","axis":null},"y":{"field":"y","type":"quantitative","axis":null},"text":{"field":"t"}}},
{"data":{"name":"capB"},"mark":{"type":"text","align":"left","baseline":"alphabetic","font":"Liberation Serif","fontSize":81,"color":"#000"},
"encoding":{"x":{"field":"x","type":"quantitative","axis":null},"y":{"field":"y","type":"quantitative","axis":null},"text":{"field":"t"}}},
{"data":{"name":"capBBold"},"mark":{"type":"text","align":"left","baseline":"alphabetic","font":"Liberation Serif","fontWeight":"bold","fontSize":81,"color":"#000"},
"encoding":{"x":{"field":"x","type":"quantitative","axis":null},"y":{"field":"y","type":"quantitative","axis":null},"text":{"field":"t"}}}
]},
{"width":57,"height":951,"data":{"name":"barB"},"mark":{"type":"rect","strokeWidth":1.5},
"encoding":{"y":{"field":"lo","type":"quantitative","scale":{"domain":[500,3000]},"title":null,"axis":{"orient":"right","values":[500,1000,1500,2000,2500,3000],"format":"d","labelFontSize":38,"labelPadding":28,"tickSize":-8}},"y2":{"field":"hi"},
"color":{"field":"lo","type":"quantitative","legend":null,"scale":{"domain":[500,750,1000,1250,1500,1625,1750,2000,2250,2500,2625,2750,3000],"range":["#3E26A8","#4848E8","#3C6CFA","#2A8DEB","#15ABD5","#05B5C0","#22B5A5","#55CC80","#A0BE40","#E0AF30","#FFB836","#FBC828","#F9FB15"]}},
"stroke":{"field":"lo","type":"quantitative","legend":null,"scale":{"domain":[500,750,1000,1250,1500,1625,1750,2000,2250,2500,2625,2750,3000],"range":["#3E26A8","#4848E8","#3C6CFA","#2A8DEB","#15ABD5","#05B5C0","#22B5A5","#55CC80","#A0BE40","#E0AF30","#FFB836","#FBC828","#F9FB15"]}}}}
]}
]
}
